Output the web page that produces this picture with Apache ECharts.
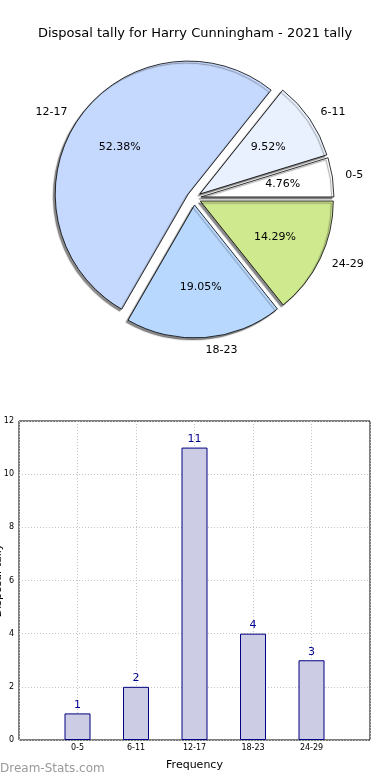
<!DOCTYPE html>
<html>
<head>
<meta charset="utf-8">
<script src="https://cdn.jsdelivr.net/npm/echarts@6/dist/echarts.min.js"></script>
<style>
html,body{margin:0;padding:0;background:#fff;}
#main{width:390px;height:780px;}
</style>
</head>
<body>
<div id="main"></div>
<script>
const titleText = 'Disposal tally for Harry Cunningham - 2021 tally';
const categories = ['0-5', '6-11', '12-17', '18-23', '24-29'];
const tally = [1, 2, 11, 4, 3];
const sliceColors = ['#ffffff', '#eaf1fe', '#c5d9fe', '#b8d8fe', '#cfe98e'];
const yTicks = [0, 2, 4, 6, 8, 10, 12];
const xPositions = [1, 2, 3, 4, 5];

const font = 'DejaVu Sans';
const R = 133;

const pieData = categories.map((c, i) => ({
  name: c, value: tally[i], selected: true,
  itemStyle: { color: sliceColors[i] }
}));
const ghostData = categories.map((c, i) => ({ name: c, value: tally[i], selected: true }));

const chart = echarts.init(document.getElementById('main'), null, { renderer: 'canvas' });
chart.setOption({
  animation: false,
  backgroundColor: '#fff',
  textStyle: { fontFamily: font },
  title: {
    text: titleText, left: 'center', top: 22,
    textStyle: { fontFamily: font, fontSize: 13, fontWeight: 'normal', color: '#000' }
  },
  graphic: [{
    type: 'text', left: 0, top: 763,
    style: { text: 'Dream-Stats.com', fontFamily: font, fontSize: 12, fill: '#999', fontWeight: 'normal' }
  }],
  grid: {
    left: 19, right: 20, top: 421, bottom: 40,
    containLabel: false, outerBoundsMode: 'none',
    show: true, borderColor: '#000', borderWidth: 1, backgroundColor: 'transparent'
  },
  xAxis: {
    type: 'value', min: 0, max: 6, interval: 1,
    name: 'Frequency', nameLocation: 'middle', nameGap: 20,
    nameTextStyle: { fontFamily: font, fontSize: 11, color: '#000' },
    axisLine: { show: false },
    axisTick: { show: false },
    axisLabel: {
      fontFamily: font, fontSize: 8, color: '#000', margin: 4,
      formatter: v => (v >= 1 && v <= categories.length) ? categories[v - 1] : ''
    },
    splitLine: { show: true, lineStyle: { color: '#c4c4c4', type: [1, 2], width: 1 } }
  },
  yAxis: {
    type: 'value', min: 0, max: 12, interval: 2,
    name: 'Disposal tally', nameLocation: 'middle', nameGap: 15, nameRotate: 90,
    nameTextStyle: { fontFamily: font, fontSize: 11, color: '#000' },
    nameMoveOverlap: false,
    axisLine: { show: false },
    axisTick: { show: false },
    axisLabel: { fontFamily: font, fontSize: 8, color: '#000', margin: 5 },
    splitLine: { show: true, lineStyle: { color: '#c4c4c4', type: [1, 2], width: 1 } }
  },
  series: [
    {
      type: 'pie',
      center: [194, 198], radius: R,
      startAngle: 0, clockwise: false,
      selectedMode: 'multiple', selectedOffset: 7,
      avoidLabelOverlap: false,
      emphasis: { disabled: true },
      itemStyle: {
        borderColor: '#000', borderWidth: 0.8,
        shadowColor: 'rgba(60,60,60,0.6)', shadowBlur: 1, shadowOffsetX: -2, shadowOffsetY: 2
      },
      label: {
        show: true, position: 'outside', formatter: '{b}',
        fontFamily: font, fontSize: 11, color: '#000', distanceToLabelLine: 0
      },
      labelLine: { show: false, length: 13, length2: 0 },
      data: pieData
    },
    {
      type: 'pie',
      center: [194, 198], radius: R * 1.2,
      startAngle: 0, clockwise: false,
      selectedMode: 'multiple', selectedOffset: 7,
      avoidLabelOverlap: false, silent: true,
      emphasis: { disabled: true },
      itemStyle: { color: 'rgba(0,0,0,0)', borderWidth: 0 },
      label: {
        show: true, position: 'inside', formatter: '{d}%',
        fontFamily: font, fontSize: 11, color: '#000'
      },
      labelLine: { show: false },
      data: ghostData
    },
    {
      type: 'bar',
      barWidth: 26,
      itemStyle: { color: '#ccccE5', borderColor: '#000080', borderWidth: 1 },
      label: { show: true, position: 'top', distance: 3, fontFamily: font, fontSize: 11, color: '#000090' },
      data: xPositions.map((x, i) => [x, tally[i]])
    }
  ]
});
</script>
</body>
</html>
